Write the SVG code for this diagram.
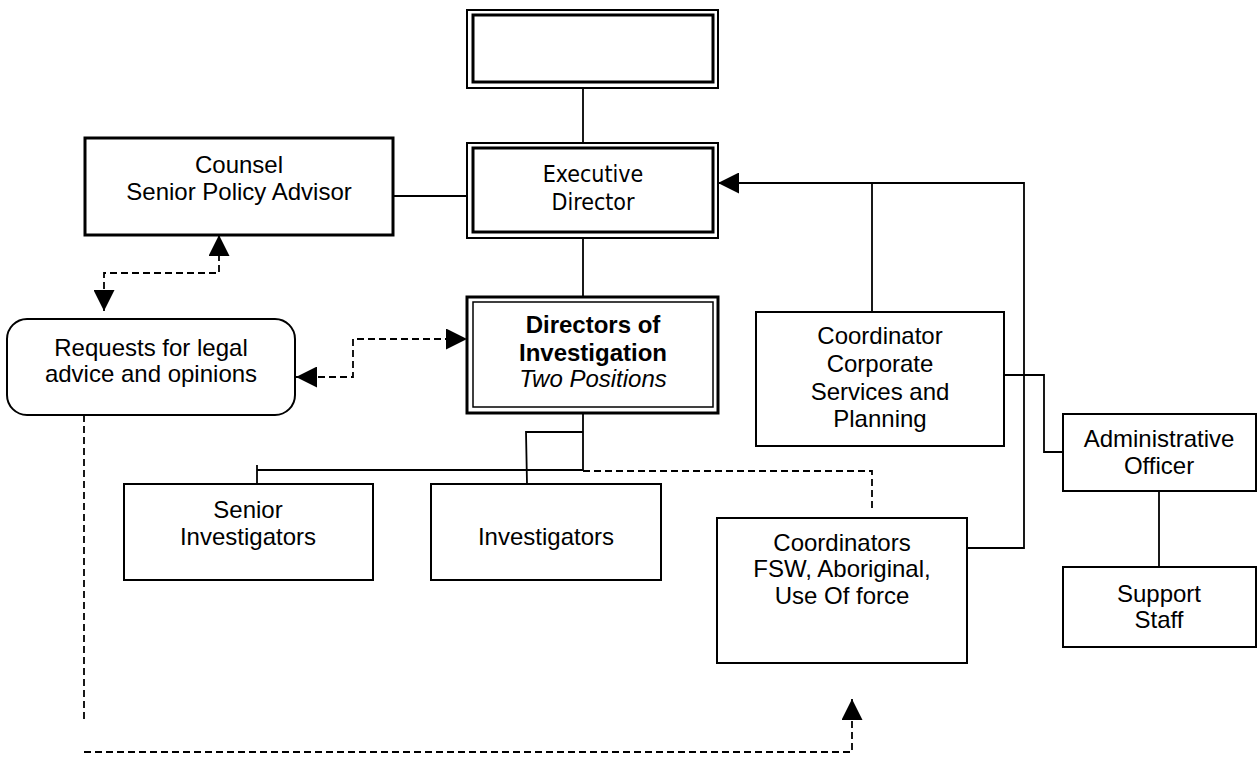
<svg xmlns="http://www.w3.org/2000/svg" width="1257" height="758" viewBox="0 0 1257 758">
<style>
.box{fill:#fff;stroke:#000;stroke-width:2}
.thick{stroke-width:3}
.thin{stroke-width:1.5}
.ln{fill:none;stroke:#000;stroke-width:1.8}
.dash{stroke-dasharray:7 4}
.t{font-family:"Liberation Sans",Arial,sans-serif;font-size:24px;text-anchor:middle;fill:#000}
.b{font-weight:bold}
.i{font-style:italic}
.tah{font-family:"DejaVu Sans",Verdana,sans-serif;font-stretch:condensed;font-size:23px;text-anchor:middle;fill:#000}
</style>
<defs>
<marker id="arr" markerUnits="userSpaceOnUse" markerWidth="21" markerHeight="21" viewBox="0 0 20 20" refX="20" refY="10" orient="auto-start-reverse">
<path d="M0,0 L20,10 L0,20 z" fill="#000"/>
</marker>
</defs>
<g id="connectors">
<path class="ln" d="M583,88 V143"/>
<path class="ln" d="M393,196 H467"/>
<path class="ln" d="M583,238 V297"/>
<path class="ln" d="M967,548 H1024 V183 H718" marker-end="url(#arr)"/>
<path class="ln" d="M872,183 V321"/>
<path class="ln" d="M1004,375 H1044 V452 H1063"/>
<path class="ln" d="M1159,491 V567"/>
<path class="ln" d="M583,413 V470 H257"/>
<path class="ln" d="M257,465 V484"/>
<path class="ln" d="M583,432 H526 L527,484"/>
<path class="ln dash" d="M583,471 H872 V510"/>
<path class="ln dash" d="M104,311 V273 H219 V235" marker-start="url(#arr)" marker-end="url(#arr)"/>
<path class="ln dash" d="M296,377 H353 V339 H467" marker-start="url(#arr)" marker-end="url(#arr)"/>
<path class="ln dash" d="M84,415 V723"/>
<path class="ln dash" d="M84,752 H852 V699" marker-end="url(#arr)"/>
</g>
<g id="top">
<rect class="box" x="467" y="10" width="251" height="78"/>
<rect class="box thick" x="473" y="15" width="240" height="67"/>
</g>
<g id="executive">
<rect class="box" x="467" y="143" width="251" height="95"/>
<rect class="box thick" x="473" y="148" width="240" height="84"/>
<text class="tah" x="593" y="182">Executive</text>
<text class="tah" x="593" y="210">Director</text>
</g>
<g id="counsel">
<rect class="box thick" x="85" y="138" width="308" height="97"/>
<text class="t" x="239" y="173">Counsel</text>
<text class="t" x="239" y="200">Senior Policy Advisor</text>
</g>
<g id="requests">
<rect class="box" x="7" y="319" width="288" height="96" rx="20" ry="20"/>
<text class="t" x="151" y="356">Requests for legal</text>
<text class="t" x="151" y="382">advice and opinions</text>
</g>
<g id="directors">
<rect class="box thick" x="467" y="297" width="251" height="116"/>
<rect class="box thin" x="473" y="302" width="240" height="105"/>
<text class="t b" x="593" y="333">Directors of</text>
<text class="t b" x="593" y="361">Investigation</text>
<text class="t i" x="593" y="387">Two Positions</text>
</g>
<g id="corporate">
<rect class="box" x="756" y="312" width="248" height="134"/>
<text class="t" x="880" y="344">Coordinator</text>
<text class="t" x="880" y="372">Corporate</text>
<text class="t" x="880" y="400">Services and</text>
<text class="t" x="880" y="427">Planning</text>
</g>
<g id="admin">
<rect class="box" x="1063" y="414" width="193" height="77"/>
<text class="t" x="1159" y="447">Administrative</text>
<text class="t" x="1159" y="474">Officer</text>
</g>
<g id="support">
<rect class="box" x="1063" y="567" width="193" height="80"/>
<text class="t" x="1159" y="602">Support</text>
<text class="t" x="1159" y="628">Staff</text>
</g>
<g id="senior">
<rect class="box" x="124" y="484" width="249" height="96"/>
<text class="t" x="248" y="518">Senior</text>
<text class="t" x="248" y="545">Investigators</text>
</g>
<g id="investigators">
<rect class="box" x="431" y="484" width="230" height="96"/>
<text class="t" x="546" y="545">Investigators</text>
</g>
<g id="coordinators">
<rect class="box" x="717" y="518" width="250" height="145"/>
<text class="t" x="842" y="551">Coordinators</text>
<text class="t" x="842" y="577">FSW, Aboriginal,</text>
<text class="t" x="842" y="604">Use Of force</text>
</g>
</svg>
